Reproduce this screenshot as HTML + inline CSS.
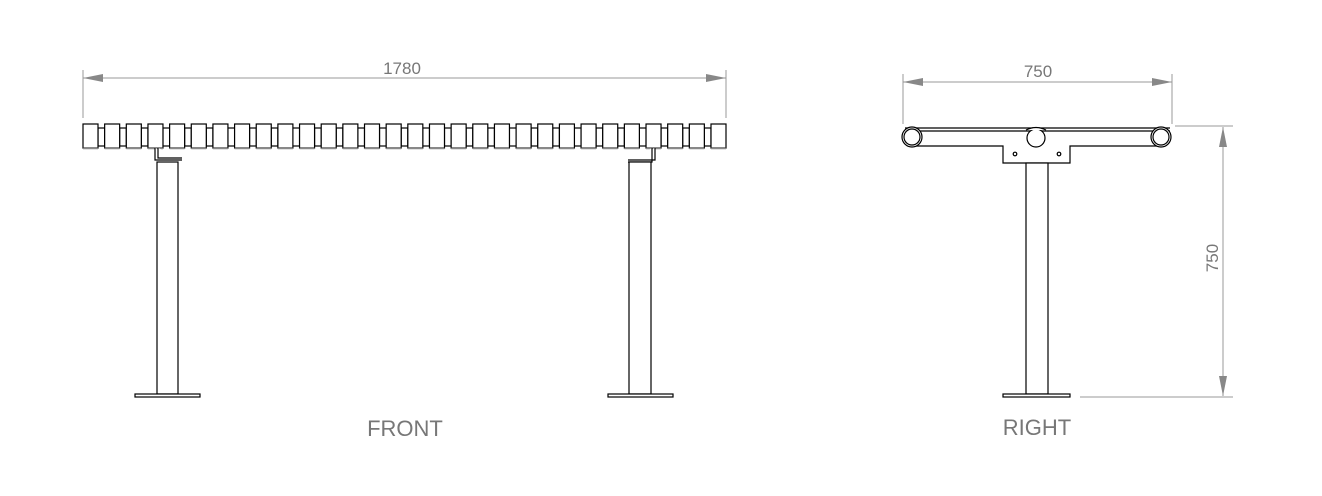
<!DOCTYPE html>
<html><head><meta charset="utf-8"><style>
html,body{margin:0;padding:0;background:#fff;}
svg{display:block}
text{font-family:"Liberation Sans",sans-serif;fill:#777}
</style></head><body>
<svg id="s" width="1322" height="496" viewBox="0 0 1322 496" xmlns="http://www.w3.org/2000/svg">
<defs>
<marker id="a" viewBox="0 0 20 8" refX="20" refY="4" markerWidth="20" markerHeight="8" markerUnits="userSpaceOnUse" orient="auto"><path d="M0,0 L20,4 L0,8 Z" fill="#888"/></marker>
</defs>
<g stroke="#999" stroke-width="1" fill="none">
<line x1="83" y1="70" x2="83" y2="118"/><line x1="726" y1="70" x2="726" y2="118"/>
<line x1="104" y1="78" x2="83" y2="78" marker-end="url(#a)"/><line x1="104" y1="78" x2="726" y2="78" marker-end="url(#a)"/>
<line x1="903" y1="74" x2="903" y2="124"/><line x1="1172" y1="74" x2="1172" y2="124"/>
<line x1="1000" y1="82" x2="903" y2="82" marker-end="url(#a)"/><line x1="1000" y1="82" x2="1172" y2="82" marker-end="url(#a)"/>
<line x1="1175" y1="126" x2="1233" y2="126"/><line x1="1080" y1="397" x2="1233" y2="397"/>
<line x1="1223" y1="250" x2="1223" y2="127" marker-end="url(#a)"/><line x1="1223" y1="250" x2="1223" y2="396" marker-end="url(#a)"/>
</g>
<text x="402" y="74" font-size="17" text-anchor="middle">1780</text>
<text x="1038" y="77" font-size="17" text-anchor="middle">750</text>
<text x="1218" y="258" font-size="17" text-anchor="middle" transform="rotate(-90 1218 258)">750</text>
<text x="405" y="436" font-size="22" text-anchor="middle">FRONT</text>
<text x="1037" y="435" font-size="22" text-anchor="middle">RIGHT</text>
<g id="f" stroke="#000" stroke-width="1.2" fill="#fff">
<path d="M155,148 V160 H182 M158,148 V158 H182"/>
<path d="M652,148 V162 H628 M655,148 V160 H628"/>
<rect x="157" y="162" width="21" height="232"/>
<rect x="629" y="162" width="22" height="232"/>
<rect x="135" y="394" width="65" height="3"/>
<rect x="608" y="394" width="65" height="3"/>
</g>
<g stroke="#000" stroke-width="1.2" fill="#fff">
<path d="M905,128 H1170 M905,131 H1170"/>
<path d="M912,146 H1003 V163 H1070 V146 H1160"/>
<circle cx="912" cy="137" r="10"/><circle cx="912" cy="137" r="8"/>
<circle cx="1036" cy="138" r="9"/><path d="M1026,130 Q1036,125 1046,130"/>
<circle cx="1161" cy="137" r="10"/><circle cx="1161" cy="137" r="8"/>
<circle cx="1015" cy="154" r="1.8"/><circle cx="1059" cy="154" r="1.8"/>
<rect x="1026" y="163" width="22" height="231"/>
<rect x="1003" y="394" width="67" height="3"/>
</g>
</svg>
<script>
var s=document.getElementById('f'),p=(726-83-15)/29;
var h='';
for(var i=0;i<30;i++){var x=83+i*p;
 if(i<29)h+='<rect x="'+(x+15)+'" y="128" width="'+(p-15)+'" height="18" fill="#fff" stroke="#000" stroke-width="1.2"/>';
 h+='<rect x="'+x+'" y="124" width="15" height="24" fill="#fff" stroke="#000" stroke-width="1.2"/><line x1="'+x+'" y1="148.5" x2="'+(x+15)+'" y2="148.5" stroke="#888" stroke-width="1.5"/>';}
s.insertAdjacentHTML('afterbegin',h);
</script>
</body></html>
